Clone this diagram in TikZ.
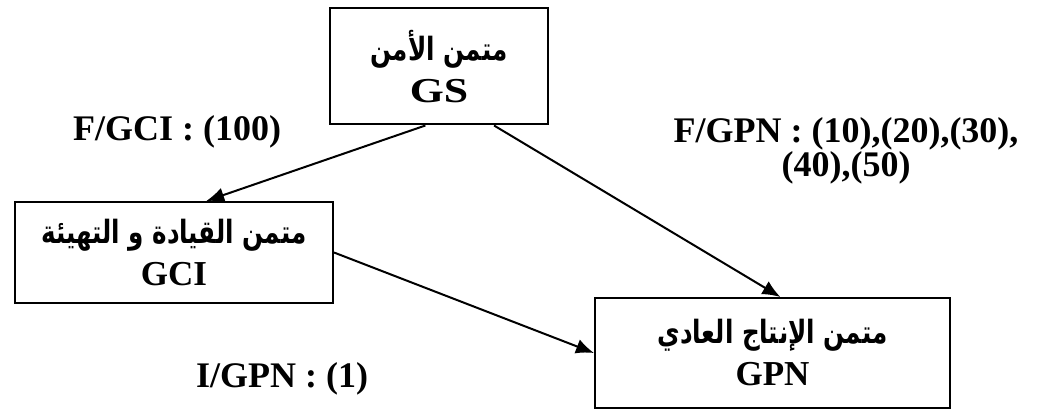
\documentclass[tikz,border=0pt]{standalone}
\usepackage{fontspec}
\setmainfont{Liberation Serif}
\newfontfamily\arabicfont[Script=Arabic]{DejaVu Sans}
\TeXXeTstate=1
\usetikzlibrary{arrows.meta}
\newcommand{\artxt}[1]{\scalebox{0.86}[1.12]{\arabicfont\bfseries\fontsize{14.3}{20}\selectfont\beginR #1\endR}}
\begin{document}
\begin{tikzpicture}[x=0.5pt,y=-0.5pt,
  box/.style={draw,line width=1pt,inner sep=0pt,align=center,
    font=\bfseries\fontsize{17.5}{21}\selectfont},
  arr/.style={-{Latex[length=9pt,width=7.5pt]},line width=1pt},
  lab/.style={font=\bfseries\fontsize{18}{16}\selectfont,inner sep=0pt,align=center}]
\useasboundingbox (0,0) rectangle (1042,416);
\node[box,minimum width=109pt,minimum height=58pt] (gs) at (439,66.5)
  {\artxt{متمن الأمن}\\\scalebox{1.25}[1]{GS}};
\node[box,minimum width=159pt,minimum height=50.5pt] (gci) at (174,252.5)
  {\artxt{متمن القيادة و التهيئة}\\GCI};
\node[box,minimum width=177.5pt,minimum height=55pt] (gpn) at (772.5,353)
  {\artxt{متمن الإنتاج العادي}\\GPN};
\node[lab] (lgci) at (177,132) {F/GCI : (100)};
\node[lab] (lgpn) at (846,151) {F/GPN : (10),(20),(30),\\(40),(50)};
\node[lab] (lign) at (282,379) {I/GPN : (1)};
\draw[arr] (gs.-103.6) -- (gci.58.5);
\draw[arr] (gs.-47) -- (gpn.82.4);
\draw[arr] (gci.east) -- (gpn.west);
\end{tikzpicture}
\end{document}
